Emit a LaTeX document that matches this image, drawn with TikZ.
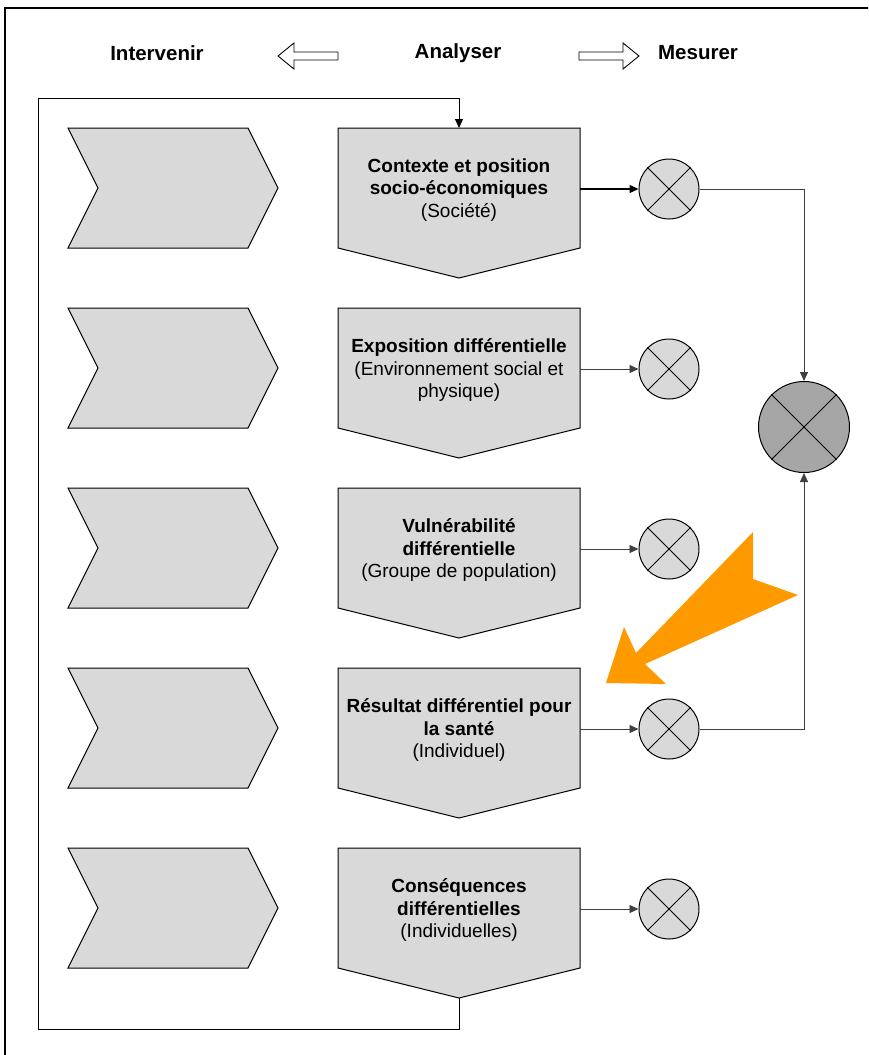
\documentclass[tikz,border=0pt]{standalone}
\usepackage{fontspec}
\setmainfont{Liberation Sans}
\usetikzlibrary{arrows.meta}
\definecolor{boxgray}{HTML}{D9D9D9}
\definecolor{biggray}{HTML}{A6A6A6}
\definecolor{linegray}{HTML}{404040}
\definecolor{signorange}{HTML}{FF9900}
\begin{document}
\begin{tikzpicture}[x=1pt,y=-1pt,
	shapebox/.style = {draw, fill=boxgray, line width=1pt, line join=miter},
	mult/.style = {circle, draw, fill=boxgray, line width=1pt, minimum size=60pt, inner sep=0pt},
	boxtext/.style = {align=center, font=\fontsize{19}{22.5}\selectfont},
	head/.style = {font=\fontsize{20.5}{24}\selectfont\bfseries},
	hollow/.style = {draw, fill=white, line width=0.9pt},
	feed/.style = {draw=linegray, line width=0.9pt, -{Triangle[length=9pt,width=8pt]}}]
	\useasboundingbox (0,0) rectangle (868,1055);
	\clip (0,0) rectangle (868,1055);
	% outer frame
	\draw[line width=1.5pt] (5,8) rectangle (880,1070);
	% headings
	\node[head] (intervenir) at (157,53) {Intervenir};
	\node[head] (analyser) at (458,53) {Analyser};
	\node[head] (mesurer) at (698,53) {Mesurer};
	\draw[hollow] (278,56) -- (294,43) -- (294,52) -- (338,52) -- (338,60) -- (294,60) -- (294,69) -- cycle;
	\draw[hollow] (639,56) -- (623,43) -- (623,52) -- (579,52) -- (579,60) -- (623,60) -- (623,69) -- cycle;
	% five rows
	\foreach \i in {1,...,5}{
		\pgfmathsetmacro\t{128+180*(\i-1)}
		\draw[shapebox] (68,\t) -- (248,\t) -- (278,\t+60) -- (248,\t+120) -- (68,\t+120) -- (98,\t+60) -- cycle;
		\draw[shapebox] (338,\t) -- (580,\t) -- (580,\t+120) -- (459,\t+150) -- (338,\t+120) -- cycle;
		\coordinate (top\i) at (459,\t);
		\coordinate (tip\i) at (459,\t+150);
		\coordinate (side\i) at (580,\t+61);
		\node[mult] (m\i) at (669,\t+61) {};
		\draw[line width=1pt] (m\i.45) -- (m\i.225) (m\i.135) -- (m\i.315);
	}
	\node[boxtext] (txt1) at (459,190) {\textbf{Contexte et position}\\\textbf{socio-économiques}\\(Société)};
	\node[boxtext] (txt2) at (459,370) {\textbf{Exposition différentielle}\\(Environnement social et\\physique)};
	\node[boxtext] (txt3) at (459,550) {\textbf{Vulnérabilité}\\\textbf{différentielle}\\(Groupe de population)};
	\node[boxtext] (txt4) at (459,730) {\textbf{Résultat différentiel pour}\\\textbf{la santé}\\(Individuel)};
	\node[boxtext] (txt5) at (459,910) {\textbf{Conséquences}\\\textbf{différentielles}\\(Individuelles)};
	% big multiplier
	\node[mult, fill=biggray, minimum size=91pt] (big) at (804,427) {};
	\draw[line width=1pt] (big.45) -- (big.225) (big.135) -- (big.315);
	% connectors
	\draw[feed, draw=black, line width=1.1pt] (side1) -- (m1);
	\foreach \i in {2,...,5}
		\draw[feed] (side\i) -- (m\i);
	\draw[feed] (m1.east) -| (big.north);
	\draw[feed] (m4.east) -| (big.south);
	% feedback loop
	\coordinate (loopbl) at (38,1029);
	\coordinate (looptl) at (38,98);
	\draw[line width=1pt, -{Triangle[length=9pt,width=8pt]}] (tip5) |- (loopbl) -- (looptl) -| (top1);
	% orange arrow
	\fill[signorange] (606,683) -- (624,627) -- (636,653) -- (753,532) -- (753,579) -- (798,595) -- (645,664) -- (666,684) -- cycle;
\end{tikzpicture}
\end{document}
